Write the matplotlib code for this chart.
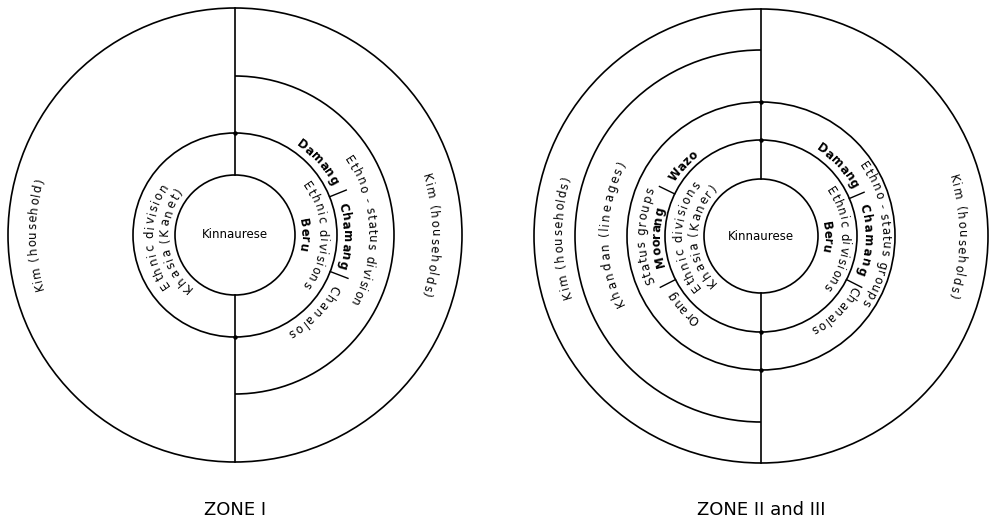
import numpy as np
import matplotlib
matplotlib.use("Agg")
import matplotlib.pyplot as plt
from matplotlib.patches import Circle, Arc
from matplotlib.font_manager import FontProperties

# ---- text of the two diagrams ----
titles = ["ZONE I", "ZONE II and III"]
centre_label = "Kinnaurese"

zone1_labels = ["Kim (household)", "Ethnic division", "Khasia (Kanet)",
                "Ethnic divisions", "Beru", "Damang", "Chamang", "Chanalos",
                "Ethno - status division", "Kim (households)"]
zone2_labels = ["Kim (households)", "Khandan (lineages)", "Status groups",
                "Moorang", "Wazo", "Orang", "Ethnic divisions", "Khasia (Kaner)",
                "Ethnic divisions", "Beru", "Damang", "Chamang", "Chanalos",
                "Ethno - status groups", "Kim (households)"]

# ---- layout (pixels): centre, ring radii, label radius / start / end angle ----
zone1_centre = (235, 235)
zone1_rings = [60, 102, 227]
zone1_half_arc = (159, -90, 90)      # ethno-status ring, right half only
zone1_ticks = [(22, 102, 120), (-21, 102, 121)]
zone1_layout = [(203, 196, 164), (86, 218, 143), (71, 232, 140),
                (88, 37, -37), (70, 14, -13), (113, 56, 27), (112, 17, -18),
                (113, -26, -62), (137, 35, -31), (200, 18, -18)]
zone1_bold = ["Beru", "Damang", "Chamang"]

zone2_centre = (761, 236)
zone2_rings = [57, 96, 134, 227]
zone2_half_arc = (186, 90, 270)      # khandan ring, left half only
zone2_ticks = [(23, 96, 112), (-27, 96, 113), (154, 96, 113), (207, 96, 113)]
zone2_layout = [(203, 198, 163), (157, 207, 152), (120, 204, 156),
                (105, 197, 164), (106, 148, 128), (107, 234, 212),
                (83, 221, 139), (68, 227, 133), (84, 36, -40), (67, 13, -14),
                (107, 58, 27), (107, 18, -22), (108, -28, -62), (125, 36, -34),
                (201, 18, -18)]
zone2_bold = ["Beru", "Damang", "Chamang", "Moorang", "Wazo"]

FS = 8.5
LW = 1.2

fig = plt.figure(figsize=(9.95, 5.25), dpi=100)
ax = fig.add_axes([0, 0, 1, 1])
ax.set_xlim(0, 995)
ax.set_ylim(525, 0)
ax.axis("off")
renderer = fig.canvas.get_renderer()


def char_width(c, prop):
    if c == " ":
        w1 = renderer.get_text_width_height_descent("a a", prop, ismath=False)[0]
        w2 = renderer.get_text_width_height_descent("aa", prop, ismath=False)[0]
        return w1 - w2
    return renderer.get_text_width_height_descent(c, prop, ismath=False)[0]


def curved_text(cx, cy, r, s, a0, a1, weight="normal"):
    # text read clockwise, letter tops facing outward
    prop = FontProperties(family="DejaVu Sans", size=FS, weight=weight)
    widths = np.array([char_width(c, prop) for c in s])
    total = widths.sum()
    cum = np.cumsum(widths) - widths / 2
    rb = r - 0.36 * FS * 100 / 72
    for c, f in zip(s, cum / total):
        if c == " ":
            continue
        ang = np.radians(a0 - (a0 - a1) * f)
        x = cx + rb * np.cos(ang)
        y = cy - rb * np.sin(ang)
        ax.text(x, y, c, rotation=np.degrees(ang) - 90, rotation_mode="anchor",
                ha="center", va="baseline", fontproperties=prop, color="black")


def draw_zone(centre, rings, half_arc, ticks, labels, layout, bold, title):
    cx, cy = centre
    for r in rings:
        ax.add_patch(Circle((cx, cy), r, fill=False, lw=LW, color="black"))
    r, t1, t2 = half_arc
    ax.add_patch(Arc((cx, cy), 2 * r, 2 * r, theta1=t1, theta2=t2,
                     lw=LW, color="black"))
    rin, rout = rings[0], rings[-1]
    ax.plot([cx, cx], [cy - rout, cy - rin], color="black", lw=LW)
    ax.plot([cx, cx], [cy + rin, cy + rout], color="black", lw=LW)
    for rr in rings[1:-1]:
        ax.plot([cx, cx], [cy - rr, cy + rr], "o", ms=2.2, color="black")
    for a, r1, r2 in ticks:
        a = np.radians(a)
        ax.plot([cx + r1 * np.cos(a), cx + r2 * np.cos(a)],
                [cy - r1 * np.sin(a), cy - r2 * np.sin(a)], color="black", lw=1.0)
    for s, (r, a0, a1) in zip(labels, layout):
        curved_text(cx, cy, r, s, a0, a1, "bold" if s in bold else "normal")
    ax.text(cx, cy, centre_label, ha="center", va="center", fontsize=FS,
            family="DejaVu Sans")
    ax.text(cx, 510, title, ha="center", va="center", fontsize=13,
            family="DejaVu Sans")


draw_zone(zone1_centre, zone1_rings, zone1_half_arc, zone1_ticks,
          zone1_labels, zone1_layout, zone1_bold, titles[0])
draw_zone(zone2_centre, zone2_rings, zone2_half_arc, zone2_ticks,
          zone2_labels, zone2_layout, zone2_bold, titles[1])

fig.savefig("out.png", dpi=100, facecolor="white")
